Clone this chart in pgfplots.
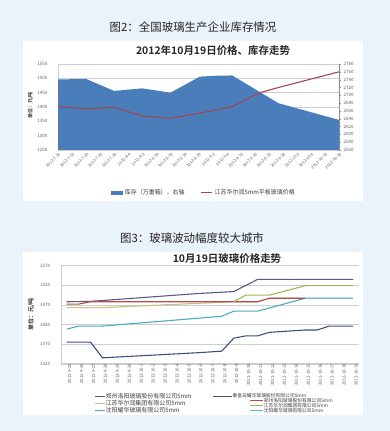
\documentclass[border=0pt]{standalone}
\usepackage{fontspec}
\setmainfont{Noto Sans CJK SC}[BoldFont={Noto Sans CJK SC Bold}]
\usepackage{pgfplots}
\pgfplotsset{compat=1.18}
\definecolor{bg}{RGB}{234,242,250}
\definecolor{areablue}{RGB}{74,126,187}
\definecolor{pricered}{RGB}{165,70,82}
\definecolor{gridc}{RGB}{205,205,205}
\definecolor{tickc}{RGB}{95,95,95}
\definecolor{cPurple}{RGB}{96,88,132}
\definecolor{cTan}{RGB}{200,190,140}
\definecolor{cTeal}{RGB}{75,172,198}
\definecolor{cNavy}{RGB}{60,80,125}
\definecolor{cRed}{RGB}{178,80,78}
\definecolor{cGreen}{RGB}{155,187,89}
\definecolor{cLTeal}{RGB}{110,185,205}
\pgfplotsset{
  bottomgeom/.style={at={(60.7bp,67.3bp)}, anchor=south west, scale only axis,
    width=298.3bp, height=98bp, xmin=-0.5, xmax=24.5, ymin=1320, ymax=1570},
}
\begin{document}
\begin{tikzpicture}
\useasboundingbox (0,0) rectangle (390bp,431bp);
\fill[bg] (0,0) rectangle (390bp,431bp);
\fill[white] (22.7bp,230.3bp) rectangle (363bp,390.3bp);
\fill[white] (22.7bp,16bp) rectangle (363bp,178.7bp);
\node[font=\fontsize{11.5}{13}\selectfont, text=black!85] at (193bp,404.3bp) {图2：全国玻璃生产企业库存情况};
\node[font=\fontsize{10.5}{12}\selectfont\bfseries, text=black!85] at (213bp,380.3bp) {2012年10月19日价格、库存走势};
\node[font=\fontsize{11.5}{13}\selectfont, text=black!85] at (192bp,192.7bp) {图3：玻璃波动幅度较大城市};
\node[font=\fontsize{10.5}{12}\selectfont\bfseries, text=black!85] at (227bp,172.5bp) {10月19日玻璃价格走势};
\node[rotate=90, font=\fontsize{5}{6}\selectfont\bfseries, text=black!80] at (30.5bp,325.5bp) {单位：元/吨};
\node[rotate=90, font=\fontsize{6}{7}\selectfont\bfseries, text=black!80] at (31bp,116.5bp) {单位：元/吨};

% ---------- top chart, left axis (inventory area)
\begin{axis}[at={(58bp,281bp)}, anchor=south west, scale only axis,
  width=281bp, height=86bp, xmin=0, xmax=20, ymin=1250, ymax=1550,
  ytick={1250,1300,...,1550}, xtick={0,...,20},
  xticklabels={2012-7-10,2012-7-15,2012-7-20,2012-7-25,2012-7-30,2012-8-4,2012-8-9,2012-8-14,2012-8-19,2012-8-24,2012-8-29,2012-9-3,2012-9-8,2012-9-13,2012-9-18,2012-9-23,2012-9-28,2012-10-3,2012-10-8,2012-10-13,2012-10-18},
  axis x line*=bottom, axis y line*=left, axis line style={gridc},
  major tick length=0pt, ymajorgrids, grid style={gridc, line width=0.6pt},
  /pgf/number format/assume math mode=true,
  /pgf/number format/1000 sep={},
  yticklabel style={font=\fontsize{4.5}{5}\selectfont, text=tickc, anchor=east, inner sep=0pt, xshift=-10.5bp},
  xticklabel style={font=\fontsize{4.1}{5}\selectfont, text=tickc, rotate=45, anchor=north east, inner sep=0pt, xshift=-1bp, yshift=-2bp},
]
\addplot[fill=areablue, draw=none] coordinates {
(0,1496) (2,1498) (4,1456) (6,1465) (8,1450) (10.1,1506) (11.3,1509) (12.4,1510) (15.7,1413) (20,1355)
} \closedcycle;
\end{axis}

% ---------- top chart, right axis (price line)
\begin{axis}[at={(58bp,281bp)}, anchor=south west, scale only axis,
  width=281bp, height=86bp, xmin=0, xmax=20, ymin=2560, ymax=2780,
  ytick={2560,2580,...,2780}, axis x line=none, axis y line*=right,
  axis line style={black!45}, y tick style={black!45}, major tick length=2bp,
  tick align=outside,
  /pgf/number format/assume math mode=true,
  /pgf/number format/1000 sep={},
  yticklabel style={font=\fontsize{4.5}{5}\selectfont, text=tickc, anchor=west, inner sep=0pt, xshift=2.5bp},
  legend cell align=left,
  legend style={at={(0.52,-0.5)}, anchor=center, legend columns=2, draw=none, fill=none,
    font=\fontsize{6}{7}\selectfont, text=black!75, inner sep=0pt,
    /tikz/every even column/.append style={column sep=14bp}},
]
\addlegendimage{legend image code/.code={\fill[areablue] (0bp,-1.4bp) rectangle (11bp,1.4bp);}}
\addlegendentry{库存（万重箱），右轴}
\addplot[pricered, line width=1.1pt, legend image code/.code={\draw[pricered, line width=1pt] (0bp,0bp) -- (11bp,0bp);}] coordinates {
(0,2671) (2,2665) (4,2669) (6,2647) (8,2641) (10.2,2655) (12.4,2671) (14.3,2706) (15.7,2720) (20,2760)
};
\addlegendentry{江苏华尔润5mm平板玻璃价格}
\end{axis}

% ---------- bottom chart, series set A
\begin{axis}[bottomgeom,
  ytick={1320,1370,...,1570}, xtick={0,...,24},
  xticklabels={2012-9-25,2012-9-26,2012-9-27,2012-9-28,2012-9-29,2012-9-30,2012-10-1,2012-10-2,2012-10-3,2012-10-4,2012-10-5,2012-10-6,2012-10-7,2012-10-8,2012-10-9,2012-10-10,2012-10-11,2012-10-12,2012-10-13,2012-10-14,2012-10-15,2012-10-16,2012-10-17,2012-10-18,2012-10-19},
  axis x line*=bottom, axis y line*=left, axis line style={gridc},
  major tick length=0pt, ymajorgrids, grid style={gridc, line width=0.6pt},
  /pgf/number format/assume math mode=true,
  /pgf/number format/1000 sep={},
  yticklabel style={font=\fontsize{4.5}{5}\selectfont, text=tickc, anchor=east, inner sep=0pt, xshift=-10.5bp},
  xticklabel style={font=\fontsize{4.3}{5}\selectfont, text=tickc, rotate=90, anchor=east, inner sep=0pt, yshift=-3bp},
  legend cell align=left,
  legend style={at={(0.112,-0.298)}, anchor=north west, legend columns=1, draw=none, fill=none,
    font=\fontsize{6}{7}\selectfont, text=black!75, inner sep=0pt, row sep=0.6bp,
    nodes={inner sep=0.4bp, text height=4.6bp, text depth=1.2bp}},
  legend image code/.code={\draw[#1, line width=0.9pt] (0bp,0bp) -- (10bp,0bp);},
]
\addplot[cPurple, line width=1.1pt] coordinates {(0,1478) (2,1479) (11,1499) (14,1504) (16,1535) (24,1535)};
\addlegendentry{郑州洛阳玻璃股份有限公司5mm}
\addplot[cTan, line width=1.1pt] coordinates {(0,1463) (3,1463) (11,1474) (14,1478) (16,1478) (17,1487) (20,1487)};
\addlegendentry{江苏华尔润集团有限公司5mm}
\addplot[cTeal, line width=1.1pt] coordinates {(0,1408) (1,1416) (3,1416) (11,1436) (13,1441) (14,1454) (16,1454) (20,1487) (24,1487)};
\addlegendentry{沈阳耀华玻璃有限公司5mm}
\end{axis}

% ---------- bottom chart, series set B1
\begin{axis}[bottomgeom, hide axis,
  legend cell align=left,
  legend style={at={(0.508,-0.302)}, anchor=north west, legend columns=1, draw=none, fill=none,
    font=\fontsize{4.8}{5.5}\selectfont, text=black!75, inner sep=0pt,
    nodes={inner sep=0.3bp, text height=3.8bp, text depth=0.9bp}},
  legend image code/.code={\draw[#1, line width=0.9pt] (0bp,0bp) -- (19bp,0bp);},
]
\addplot[cNavy, line width=1.1pt] coordinates {(0,1375) (2,1375) (3,1335) (11,1348) (13,1352) (14,1385) (15,1391) (16,1391) (17,1400) (20,1406) (21,1406) (22,1416) (24,1416)};
\addlegendentry{秦皇岛耀华玻璃股份有限公司5mm}
\end{axis}

% ---------- bottom chart, series set B2
\begin{axis}[bottomgeom, hide axis,
  legend cell align=left,
  legend style={at={(0.633,-0.347)}, anchor=north west, legend columns=1, draw=none, fill=none,
    font=\fontsize{4.8}{5.5}\selectfont, text=black!75, inner sep=0pt, row sep=-0.2bp,
    nodes={inner sep=0.3bp, text height=3.8bp, text depth=0.9bp}},
  legend image code/.code={\draw[#1, line width=0.9pt] (0bp,0bp) -- (13bp,0bp);},
]
\addplot[cRed, line width=1.1pt] coordinates {(0,1472) (1,1472) (2,1478) (16,1478) (17,1487) (20,1487)};
\addlegendentry{郑州洛阳玻璃股份有限公司5mm}
\addplot[cGreen, line width=1.1pt] coordinates {(14,1478) (15,1495) (17,1495) (20,1519) (24,1519)};
\addlegendentry{江苏华尔润集团有限公司5mm}
\addplot[cLTeal, line width=1.1pt] coordinates {(20,1487) (24,1487)};
\addlegendentry{沈阳耀华玻璃有限公司5mm}
\end{axis}
\end{tikzpicture}
\end{document}
